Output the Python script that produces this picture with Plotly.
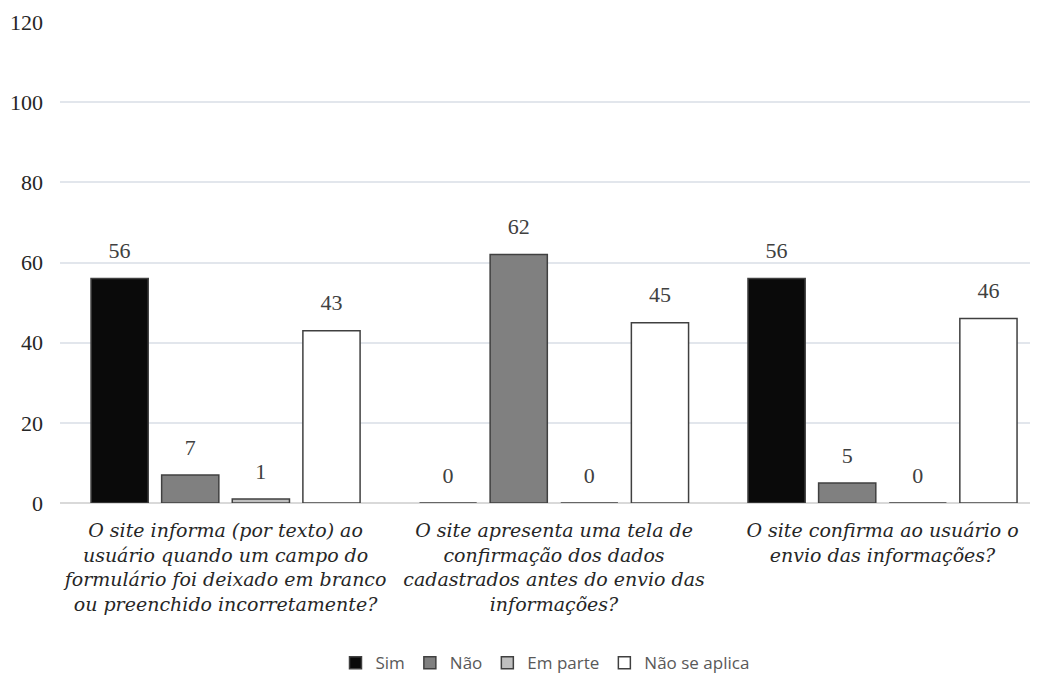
import plotly.graph_objects as go

categories = [
    "O site informa (por texto) ao<br>usuário quando um campo do<br>formulário foi deixado em branco<br>ou preenchido incorretamente?",
    "O site apresenta uma tela de<br>confirmação dos dados<br>cadastrados antes do envio das<br>informações?",
    "O site confirma ao usuário o<br>envio das informações?",
]
series_names = ["Sim", "Não", "Em parte", "Não se aplica"]
sim = [56, 0, 56]
nao = [7, 62, 5]
em_parte = [1, 0, 0]
nao_se_aplica = [43, 45, 46]
y_ticks = [0, 20, 40, 60, 80, 100, 120]

colors = ["#0a0a0a", "#808080", "#bfbfbf", "#ffffff"]
values = [sim, nao, em_parte, nao_se_aplica]

fig = go.Figure()
for name, vals, col in zip(series_names, values, colors):
    fig.add_trace(go.Bar(
        x=categories, y=vals, name=name, offsetgroup=name,
        marker=dict(color=col, line=dict(color="#404040", width=1.5)),
    ))
for name, vals in zip(series_names, values):
    fig.add_trace(go.Scatter(
        x=categories, y=vals, mode="markers+text", offsetgroup=name,
        marker=dict(size=22, color="rgba(0,0,0,0)"),
        text=[str(v) for v in vals], textposition="top center",
        textfont=dict(family="Liberation Serif", size=22, color="#404040"),
        cliponaxis=False, showlegend=False, hoverinfo="skip",
    ))

fig.update_layout(
    width=1037, height=676,
    margin=dict(l=60, r=7, t=22, b=173, autoexpand=False),
    plot_bgcolor="white", paper_bgcolor="white",
    barmode="group", bargap=0.14, bargroupgap=0.19,
    scattermode="group", scattergap=0.14,
    showlegend=True,
    legend=dict(orientation="h", x=0.5, xanchor="center", y=-0.333, yanchor="middle",
                font=dict(family="Open Sans", size=17, color="#595959"),
                traceorder="normal"),
    xaxis=dict(tickfont=dict(family="DejaVu Serif", size=19, color="#262626"),
               showline=False, ticks="", automargin=False, tickangle=0,
               ticklabelstandoff=14, range=[-0.504, 2.449],
               tickmode="array", tickvals=categories,
               ticktext=["<i>" + c.replace("<br>", "</i><br><i>") + "</i>" for c in categories]),
    yaxis=dict(range=[0, 120], tickvals=y_ticks, showgrid=True, gridcolor="#e2e6ec",
               gridwidth=1.5, zeroline=True, zerolinecolor="#d9d9d9", zerolinewidth=1.5,
               tickfont=dict(family="Liberation Serif", size=22, color="#262626"),
               ticklabelstandoff=16, automargin=False),
)

fig.write_html("out.html")
